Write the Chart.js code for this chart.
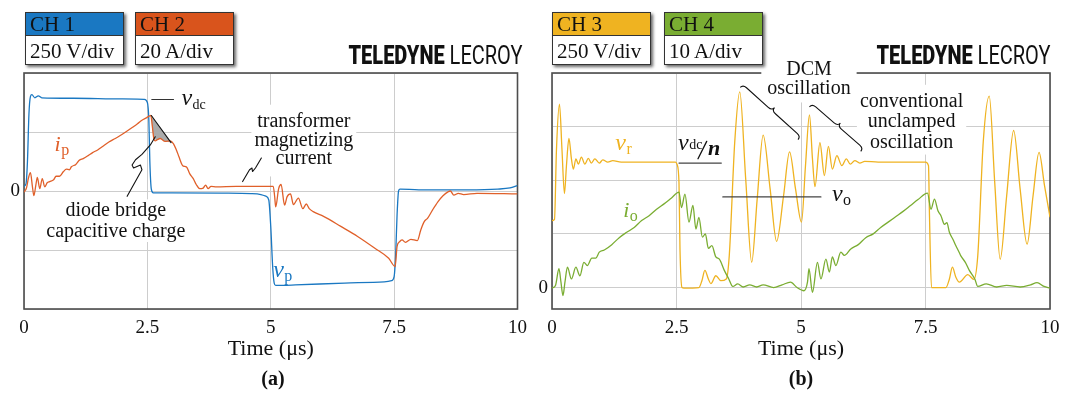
<!DOCTYPE html>
<html><head><meta charset="utf-8">
<script src="https://cdn.jsdelivr.net/npm/chart.js@4.4.1/dist/chart.umd.min.js"></script>
<style>
html,body{margin:0;padding:0;background:#fff;}
#wrap{position:relative;width:1070px;height:394px;overflow:hidden;background:#fff;}
canvas{position:absolute;top:0;}
.box{position:absolute;top:12px;width:97px;border:1px solid #333;box-shadow:2px 2px 3px rgba(0,0,0,.6);background:#fff;font-family:"Liberation Serif",serif;font-size:21px;color:#111;}
.box .hd{height:22px;line-height:22px;padding-left:4px;border-bottom:1px solid #333;}
.box .bd{height:28px;line-height:31px;padding-left:4px;}
.brand{position:absolute;top:44px;font-family:Roboto,"Liberation Sans",sans-serif;font-size:25px;line-height:24px;transform:scaleX(.8);transform-origin:right center;white-space:nowrap;color:#111;}
.brand b{font-weight:900;}
.cap{position:absolute;top:366px;width:100px;text-align:center;font-family:"Liberation Serif",serif;font-weight:bold;font-size:20px;line-height:24px;color:#111;}
</style></head>
<body>
<div id="wrap">
  <canvas id="ca" width="535" height="394" style="left:0"></canvas>
  <canvas id="cb" width="535" height="394" style="left:535px"></canvas>
  <div class="box" style="left:25px"><div class="hd" style="background:#1a78c2">CH 1</div><div class="bd">250 V/div</div></div>
  <div class="box" style="left:135px"><div class="hd" style="background:#d9541c">CH 2</div><div class="bd">20 A/div</div></div>
  <div class="box" style="left:552px"><div class="hd" style="background:#efb321">CH 3</div><div class="bd">250 V/div</div></div>
  <div class="box" style="left:664px"><div class="hd" style="background:#7aad32">CH 4</div><div class="bd">10 A/div</div></div>
  <div class="brand" style="right:548px"><b>TELEDYNE</b> LECROY</div>
  <div class="brand" style="right:20px"><b>TELEDYNE</b> LECROY</div>
  <div class="cap" style="left:223px">(a)</div>
  <div class="cap" style="left:751px">(b)</div>
</div>
<script>
// ---------------- data ----------------
const timeTicks = [0, 2.5, 5, 7.5, 10];           // µs
const ch1VoltsPerDiv = 250, ch2AmpsPerDiv = 20, ch3VoltsPerDiv = 250, ch4AmpsPerDiv = 10;

// CH1: primary voltage v_p  [t (µs), V]
const vpPoints = [[0,20],[0.04,30],[0.07,125],[0.1,325],[0.13,400],[0.16,408],[0.22,395],[0.29,403],[0.36,395],[1.0,393],[2.0,390],[2.44,388],[2.5,375],[2.53,300],[2.55,125],[2.58,8],[2.62,-8],[3.0,-8],[4.0,-9],[4.6,-11],[4.8,-15],[4.9,-22],[4.96,-38],[5.0,-150],[5.04,-325],[5.07,-390],[5.1,-400],[5.5,-398],[6.5,-390],[7.3,-385],[7.45,-380],[7.5,-363],[7.53,-275],[7.56,-100],[7.59,0],[7.62,8],[8.0,5],[9.0,5],[9.6,8],[9.85,13],[10,23]];

// CH2: primary current i_p  [t (µs), A]
const ipPoints = [[0,-0.4],[0.05,1],[0.09,4.4],[0.13,6.2],[0.17,1.6],[0.2,-1.6],[0.24,2],[0.27,4.6],[0.32,0.8],[0.37,4.2],[0.42,1.4],[0.47,2.8],[0.52,3.2],[0.6,3.8],[0.65,5],[0.72,5],[0.8,6.6],[0.86,7.4],[0.92,7.2],[0.96,8.2],[1.05,9],[1.12,10.4],[1.2,11],[1.3,12],[1.39,13],[1.5,14],[1.6,15.2],[1.72,16.6],[1.85,17.8],[1.95,18.8],[2.06,20],[2.2,21.6],[2.3,22.8],[2.39,24],[2.48,24.8],[2.57,25.6],[2.6,22],[2.63,17.8],[2.66,17],[2.7,17.4],[2.76,17.8],[2.86,16.8],[2.96,17],[3.03,16],[3.09,13.8],[3.14,11.6],[3.2,9],[3.23,8.4],[3.29,8.2],[3.36,5.8],[3.43,4.2],[3.49,2.2],[3.56,0.8],[3.63,1],[3.68,2],[3.73,0.8],[3.79,1.6],[3.9,1.4],[4.3,1.6],[4.7,1.6],[5.05,1.6],[5.08,-2],[5.1,-5.4],[5.16,0.8],[5.21,2.2],[5.28,-4.8],[5.33,-2],[5.4,-1],[5.46,-4.6],[5.56,-2.4],[5.65,-6],[5.72,-4.4],[5.78,-6],[5.86,-7],[6.07,-8.6],[6.42,-12],[6.76,-15.4],[7.11,-19.4],[7.39,-22.8],[7.52,-25.6],[7.56,-18.8],[7.61,-17.2],[7.66,-16.6],[7.73,-17.4],[7.84,-16.4],[7.97,-16.8],[8.04,-13.2],[8.11,-10.4],[8.18,-9.2],[8.28,-6.4],[8.39,-3.6],[8.49,-1.6],[8.6,-0.2],[8.64,0],[8.71,-1.4],[8.8,-0.8],[8.91,-1.2],[9.18,-0.8],[10,-1]];

// CH3: rectifier voltage v_r  [t (µs), V]
const vrPoints = [[0,312],[0.05,318],[0.09,645],[0.15,855],[0.2,645],[0.25,438],[0.29,568],[0.34,695],[0.39,600],[0.43,552],[0.48,600],[0.53,575],[0.59,608],[0.66,575],[0.73,602],[0.79,580],[0.86,600],[0.95,580],[1.02,595],[1.12,585],[1.22,592],[1.39,585],[1.8,585],[2.2,585],[2.48,585],[2.51,575],[2.55,490],[2.57,180],[2.61,0],[2.65,-3],[2.95,0],[3.01,32],[3.07,80],[3.14,40],[3.19,18],[3.29,55],[3.39,32],[3.5,40],[3.56,150],[3.67,680],[3.77,912],[3.89,505],[4.01,118],[4.12,412],[4.24,710],[4.38,460],[4.51,215],[4.65,428],[4.77,632],[4.89,460],[5.01,305],[5.09,568],[5.17,805],[5.23,600],[5.28,470],[5.38,675],[5.47,522],[5.55,658],[5.63,552],[5.72,615],[5.82,568],[5.91,600],[5.99,575],[6.08,592],[6.18,580],[6.28,588],[6.55,585],[7.0,585],[7.5,585],[7.56,568],[7.58,335],[7.62,0],[7.91,0],[7.98,40],[8.04,95],[8.11,48],[8.18,25],[8.35,60],[8.47,38],[8.55,150],[8.66,680],[8.78,892],[8.89,490],[9.0,132],[9.13,428],[9.27,732],[9.4,460],[9.54,202],[9.66,428],[9.78,630],[9.89,475],[10,328]];

// CH4: output current i_o  [t (µs), A]
const ioPoints = [[0,-0.1],[0.07,0.4],[0.14,3.5],[0.18,1],[0.22,-1.5],[0.26,1],[0.31,3.8],[0.39,1.6],[0.48,3.8],[0.56,2.2],[0.64,4.7],[0.71,4.1],[0.8,5.5],[0.88,5.5],[0.95,6.6],[1.05,7],[1.2,8],[1.35,9.3],[1.5,10.3],[1.65,11.2],[1.8,12.5],[1.95,13.4],[2.1,14.6],[2.25,15.6],[2.4,16.7],[2.55,17.8],[2.6,14.9],[2.67,17.4],[2.75,12.2],[2.83,15.3],[2.89,10.9],[2.95,13.1],[3.02,9.4],[3.08,10],[3.14,7.3],[3.21,7.8],[3.29,5.7],[3.36,5.3],[3.46,3.2],[3.55,1.6],[3.63,0.2],[3.73,0.7],[3.84,0.1],[3.97,0.5],[4.11,0.1],[4.24,0.5],[4.45,0],[4.62,0.5],[4.79,1],[4.92,0],[5.06,-0.6],[5.13,1],[5.16,3.5],[5.23,-0.9],[5.33,4.7],[5.4,1.6],[5.5,5.3],[5.57,2.9],[5.63,5.7],[5.7,4.1],[5.8,6.6],[5.87,6],[6.0,7.2],[6.15,8],[6.3,9.3],[6.45,10],[6.6,11.2],[6.75,12.2],[6.9,13.2],[7.05,14.2],[7.2,15.3],[7.35,16.4],[7.54,17.6],[7.61,14.6],[7.68,16.5],[7.75,14.3],[7.81,13.4],[7.88,11.8],[7.93,12.1],[7.98,10.3],[8.05,9],[8.11,7.8],[8.18,6.5],[8.21,5.9],[8.3,4.7],[8.38,3.2],[8.49,1.6],[8.55,0.2],[8.72,0.7],[8.93,0.1],[9.13,0.4],[9.4,0.1],[9.61,0.5],[9.74,0.9],[9.88,0.2],[10,-0.1]];

// ---------------- styling helpers ----------------
const SERIF = '"Liberation Serif","DejaVu Serif",serif';
const BLUE = '#1a78c2', ORANGE = '#e0602a', YELLOW = '#efb321', GREEN = '#7aad32';
const toXY = (pts, perDiv) => pts.map(([t, v]) => ({x: t, y: v / perDiv}));

function lineDS(data, color) {
  return {data, borderColor: color, borderWidth: 1.3, pointRadius: 0, fill: false,
          cubicInterpolationMode: 'monotone'};
}

function baseOptions(yMin, yMax, yTicks, yWidth, rightPad) {
  return {
    responsive: false, devicePixelRatio: 1, animation: false,
    layout: {padding: {top: 73, right: rightPad, left: 0, bottom: 0}},
    plugins: {legend: {display: false}, tooltip: {enabled: false}},
    scales: {
      x: {type: 'linear', min: 0, max: 10,
          afterBuildTicks: s => { s.ticks = timeTicks.map(v => ({value: v})); },
          afterFit: s => { s.height = 394 - 309; },
          grid: {color: '#cdcdcd', lineWidth: 1, drawTicks: false},
          border: {display: false},
          ticks: {font: {family: SERIF, size: 19}, color: '#111', padding: 8, maxRotation: 0,
                  callback: v => String(v)},
          title: {display: true, text: 'Time (μs)', font: {family: SERIF, size: 22}, color: '#111',
                  padding: {top: 0, bottom: 32}}},
      y: {type: 'linear', min: yMin, max: yMax,
          afterBuildTicks: s => { s.ticks = yTicks.map(v => ({value: v})); },
          afterFit: s => { s.width = yWidth; },
          grid: {color: '#cdcdcd', lineWidth: 1, drawTicks: false},
          border: {display: false},
          ticks: {font: {family: SERIF, size: 19}, color: '#111', padding: 4,
                  callback: v => (v === 0 ? '0' : '')}}
    }
  };
}

function frame(ctx, ca) {
  ctx.save();
  ctx.strokeStyle = '#4d4d4d'; ctx.lineWidth = 1.6;
  ctx.strokeRect(ca.left, ca.top, ca.right - ca.left, ca.bottom - ca.top);
  ctx.restore();
}

function textBlock(ctx, lines, cx, baselines, box) {
  ctx.font = '20px ' + SERIF;
  const w = Math.max(...lines.map(s => ctx.measureText(s).width));
  if (box) {
    const [px, pt, pb] = box;
    const top = baselines[0] - 14 - pt, bot = baselines[baselines.length - 1] + pb;
    ctx.fillStyle = '#fff';
    ctx.fillRect(cx - w / 2 - px, top, w + 2 * px, bot - top);
  }
  ctx.fillStyle = '#111'; ctx.textAlign = 'center'; ctx.textBaseline = 'alphabetic';
  lines.forEach((s, i) => ctx.fillText(s, cx, baselines[i]));
}

function mathLabel(ctx, x, y, main, sub, color, size, subSize, drop) {
  ctx.fillStyle = color; ctx.textAlign = 'left'; ctx.textBaseline = 'alphabetic';
  ctx.font = 'italic ' + size + 'px ' + SERIF;
  ctx.fillText(main, x, y);
  const w = ctx.measureText(main).width;
  ctx.font = subSize + 'px ' + SERIF;
  ctx.fillText(sub, x + w + 0.5, y + drop);
}

function polyline(ctx, pts, color, width) {
  ctx.beginPath();
  pts.forEach(([x, y], i) => (i ? ctx.lineTo(x, y) : ctx.moveTo(x, y)));
  ctx.strokeStyle = color; ctx.lineWidth = width; ctx.lineJoin = 'round'; ctx.lineCap = 'round';
  ctx.stroke();
}

function brace(ctx, x1, y1, x2, y2, w) {
  const L = Math.hypot(x2 - x1, y2 - y1), h = w / 2, r = w * 0.6;
  ctx.save();
  ctx.translate(x1, y1); ctx.rotate(Math.atan2(y2 - y1, x2 - x1));
  ctx.beginPath();
  ctx.moveTo(0, 0);
  ctx.quadraticCurveTo(0, -h, r, -h);
  ctx.lineTo(L / 2 - r, -h);
  ctx.quadraticCurveTo(L / 2, -h, L / 2, -w);
  ctx.quadraticCurveTo(L / 2, -h, L / 2 + r, -h);
  ctx.lineTo(L - r, -h);
  ctx.quadraticCurveTo(L, -h, L, 0);
  ctx.strokeStyle = '#111'; ctx.lineWidth = 1.1; ctx.stroke();
  ctx.restore();
}

// ---------------- panel (a) annotations ----------------
const annotA = {
  id: 'annotA',
  beforeDatasetsDraw(chart) {
    const ctx = chart.ctx, X = t => chart.scales.x.getPixelForValue(t), Y = d => chart.scales.y.getPixelForValue(d);
    frame(ctx, chart.chartArea);
    ctx.save();
    // capacitive-charge area
    const tri = [[2.58,1.28],[2.98,0.82],[2.86,0.84],[2.76,0.89],[2.69,0.86],[2.63,0.88],[2.6,1.05]];
    ctx.beginPath();
    tri.forEach(([t, d], i) => (i ? ctx.lineTo(X(t), Y(d)) : ctx.moveTo(X(t), Y(d))));
    ctx.closePath(); ctx.fillStyle = '#ababab'; ctx.fill();
    textBlock(ctx, ['transformer', 'magnetizing', 'current'], X(5.67), [Y(1.09), Y(0.77), Y(0.45)], [3, 8, 12]);
    textBlock(ctx, ['diode bridge', 'capacitive charge'], X(1.86), [Y(-0.43), Y(-0.78)], [3, 3, 5]);
    ctx.restore();
  },
  afterDatasetsDraw(chart) {
    const ctx = chart.ctx, X = t => chart.scales.x.getPixelForValue(t), Y = d => chart.scales.y.getPixelForValue(d);
    ctx.save();
    polyline(ctx, [[X(2.58), Y(1.28)], [X(2.98), Y(0.82)]], '#111', 1.1);
    polyline(ctx, [[2.66,0.92],[2.56,0.78],[2.39,0.62],[2.26,0.53],[2.19,0.44],[2.22,0.39],[2.36,0.44],[2.39,0.36],[2.09,-0.09]].map(([t,d]) => [X(t), Y(d)]), '#111', 1.1);
    polyline(ctx, [[4.43,0.16],[4.57,0.36],[4.62,0.39],[4.63,0.33],[4.69,0.39],[4.81,0.56]].map(([t,d]) => [X(t), Y(d)]), '#111', 1.1);
    polyline(ctx, [[X(2.59), Y(1.55)], [X(3.03), Y(1.55)]], '#333', 1.1);
    mathLabel(ctx, X(3.19), Y(1.46), 'v', 'dc', '#111', 24, 14, 4);
    mathLabel(ctx, X(0.62), Y(0.67), 'i', 'p', ORANGE, 22, 16, 4);
    mathLabel(ctx, X(5.05), Y(-1.45), 'v', 'p', BLUE, 24, 16, 4);
    ctx.restore();
  }
};

// ---------------- panel (b) annotations ----------------
const annotB = {
  id: 'annotB',
  beforeDatasetsDraw(chart) {
    const ctx = chart.ctx, X = t => chart.scales.x.getPixelForValue(t), Y = d => chart.scales.y.getPixelForValue(d);
    frame(ctx, chart.chartArea);
    ctx.save();
    textBlock(ctx, ['DCM', 'oscillation'], X(5.16), [Y(3.97), Y(3.6)], [6, 6, 8]);
    textBlock(ctx, ['conventional', 'unclamped', 'oscillation'], X(7.22), [Y(3.37), Y(2.99), Y(2.61)], [3, 8, 7]);
    ctx.restore();
  },
  afterDatasetsDraw(chart) {
    const ctx = chart.ctx, X = t => chart.scales.x.getPixelForValue(t), Y = d => chart.scales.y.getPixelForValue(d);
    ctx.save();
    brace(ctx, X(3.78), Y(3.73), X(4.94), Y(2.76), 8);
    brace(ctx, X(5.17), Y(3.37), X(6.2), Y(2.54), 8);
    polyline(ctx, [[X(2.55), Y(2.32)], [X(3.40), Y(2.32)]], '#444', 1.2);
    polyline(ctx, [[X(3.43), Y(1.69)], [X(5.4), Y(1.69)]], '#444', 1.2);
    // v_dc / n
    const x0 = X(2.53), y0 = Y(2.57);
    mathLabel(ctx, x0, y0, 'v', 'dc', '#111', 24, 14, -1);
    polyline(ctx, [[x0 + 20, y0 + 9], [x0 + 28.7, y0 - 8.3]], '#111', 1.3);
    ctx.font = 'bold italic 22px ' + SERIF; ctx.fillStyle = '#111';
    ctx.fillText('n', x0 + 30, y0 + 5);
    mathLabel(ctx, X(5.62), Y(1.61), 'v', 'o', '#111', 24, 16, 4);
    mathLabel(ctx, X(1.43), Y(1.31), 'i', 'o', GREEN, 22, 16, 4);
    mathLabel(ctx, X(1.27), Y(2.57), 'v', 'r', YELLOW, 24, 16, 4);
    ctx.restore();
  }
};

// ---------------- charts ----------------
new Chart(document.getElementById('ca'), {
  type: 'line',
  data: {datasets: [lineDS(toXY(ipPoints, ch2AmpsPerDiv), ORANGE), lineDS(toXY(vpPoints, ch1VoltsPerDiv), BLUE)]},
  options: baseOptions(-2, 2, [-2, -1, 0, 1, 2], 24, 12),
  plugins: [annotA]
});
new Chart(document.getElementById('cb'), {
  type: 'line',
  data: {datasets: [lineDS(toXY(ioPoints, ch4AmpsPerDiv), GREEN), lineDS(toXY(vrPoints, ch3VoltsPerDiv), YELLOW)]},
  options: baseOptions(-0.4, 4, [0, 1, 2, 3, 4], 17, 20),
  plugins: [annotB]
});
</script>
</body></html>
